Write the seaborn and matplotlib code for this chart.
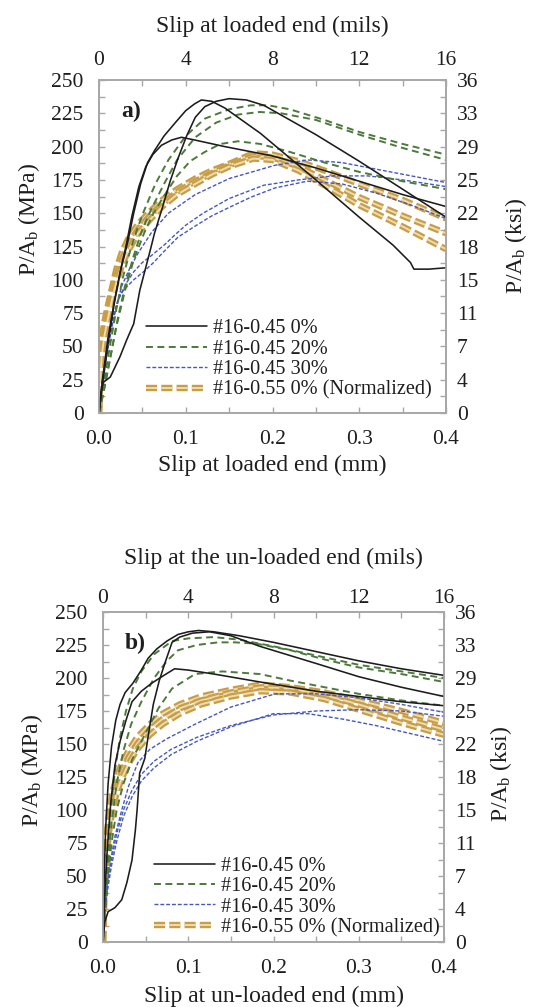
import numpy as np
import pandas as pd
import matplotlib
matplotlib.use("Agg")
import matplotlib.pyplot as plt
import seaborn as sns

# ---------------------------------------------------------------------------
# Bond stress vs. slip, #16 bars (loaded end and un-loaded end)
# slip in mm, bond stress P/Ab in MPa
# ---------------------------------------------------------------------------

# ---- a) slip at loaded end -------------------------------------------------
# #16-0.45 0%
LE_K1_SLIP = [0, 0.004, 0.010, 0.018, 0.026, 0.033, 0.040, 0.048, 0.056, 0.064, 0.075, 0.088,
              0.100, 0.110, 0.118, 0.130, 0.145, 0.186, 0.250, 0.300, 0.339, 0.359, 0.363, 0.380, 0.400]
LE_K1_STRESS = [0, 25, 55, 85, 110, 128, 150, 172, 188, 197, 208, 218,
                227, 232, 235, 234, 229, 210, 175, 147, 126, 113, 108, 108, 109]
LE_K2_SLIP = [0, 0.004, 0.010, 0.017, 0.024, 0.031, 0.038, 0.046, 0.054, 0.062, 0.072, 0.084,
              0.095, 0.110, 0.145, 0.200, 0.250, 0.300, 0.350, 0.400]
LE_K2_STRESS = [0, 22, 50, 80, 105, 125, 148, 170, 185, 194, 201, 205,
                207, 205, 200, 193, 184, 174, 164, 155]
LE_K3_SLIP = [0, 0.002, 0.005, 0.013, 0.024, 0.032, 0.040, 0.047, 0.053, 0.059, 0.064, 0.073,
              0.082, 0.091, 0.101, 0.111, 0.122, 0.135, 0.150, 0.170, 0.190, 0.250, 0.300, 0.350, 0.400]
LE_K3_STRESS = [0, 15, 23, 27, 42, 55, 67, 92, 107, 122, 135, 154,
                174, 191, 208, 222, 230, 234, 236, 235, 231, 209, 189, 168, 147]
# #16-0.45 20%
LE_G1_SLIP = [0, 0.005, 0.012, 0.020, 0.028, 0.036, 0.044, 0.052, 0.065, 0.080, 0.100, 0.122,
              0.150, 0.175, 0.195, 0.220, 0.260, 0.300, 0.350, 0.400]
LE_G1_STRESS = [0, 20, 48, 78, 103, 122, 138, 152, 172, 190, 208, 221,
                228, 231, 231, 228, 220, 211, 202, 194]
LE_G2_SLIP = [0, 0.006, 0.014, 0.022, 0.030, 0.040, 0.050, 0.061, 0.075, 0.090, 0.111, 0.135,
              0.160, 0.185, 0.210, 0.250, 0.300, 0.350, 0.400]
LE_G2_STRESS = [0, 18, 45, 72, 95, 118, 138, 154, 172, 190, 207, 218,
                224, 226, 225, 220, 209, 199, 190]
LE_G3_SLIP = [0, 0.005, 0.012, 0.020, 0.030, 0.040, 0.052, 0.062, 0.073, 0.090, 0.105, 0.122,
              0.140, 0.160, 0.186, 0.220, 0.260, 0.300, 0.350, 0.400]
LE_G3_STRESS = [0, 15, 38, 65, 92, 115, 135, 149, 161, 178, 189, 196,
                202, 204, 202, 196, 188, 181, 174, 168]
# #16-0.45 30%
LE_B1_SLIP = [0, 0.004, 0.010, 0.018, 0.026, 0.035, 0.045, 0.061, 0.080, 0.111, 0.150, 0.203,
              0.240, 0.280, 0.320, 0.360, 0.400]
LE_B1_STRESS = [0, 25, 50, 75, 95, 108, 120, 136, 150, 164, 176, 186,
                190, 188, 183, 178, 173]
LE_B2_SLIP = [0, 0.004, 0.010, 0.017, 0.024, 0.032, 0.040, 0.050, 0.060, 0.075, 0.088, 0.100,
              0.120, 0.150, 0.190, 0.230, 0.270, 0.310, 0.350, 0.400]
LE_B2_STRESS = [0, 22, 48, 72, 88, 98, 106, 113, 118, 126, 134, 141,
                150, 161, 171, 175, 178, 178, 175, 170]
LE_B3_SLIP = [0, 0.003, 0.008, 0.015, 0.022, 0.028, 0.040, 0.053, 0.063, 0.073, 0.082, 0.091,
              0.110, 0.130, 0.149, 0.175, 0.203, 0.240, 0.280, 0.320, 0.360, 0.400]
LE_B3_STRESS = [0, 20, 42, 70, 85, 92, 100, 107, 113, 120, 126, 132,
                140, 148, 154, 162, 169, 174, 172, 165, 156, 146]
# #16-0.55 0% (normalized)
LE_O_SLIP = [0, 0.001, 0.003, 0.006, 0.010, 0.015, 0.020, 0.026, 0.033, 0.045, 0.060, 0.073,
             0.090, 0.111, 0.130, 0.150, 0.178, 0.200, 0.230, 0.260, 0.300, 0.350, 0.400]
LE_O1_STRESS = [0, 30, 55, 68, 80, 94, 108, 120, 130, 142, 152, 160,
                168, 176, 182, 187, 195, 194, 189, 182, 172, 160, 146]
LE_O2_STRESS = [0, 25, 48, 62, 75, 90, 103, 115, 125, 138, 149, 157,
                166, 174, 180, 186, 193, 192, 185, 175, 162, 148, 135]
LE_O3_STRESS = [0, 20, 42, 57, 70, 85, 98, 110, 121, 135, 146, 155,
                164, 172, 179, 185, 191, 190, 182, 171, 156, 140, 123]

# ---- b) slip at un-loaded end ----------------------------------------------
# #16-0.45 0%
UE_K1_SLIP = [0, 0.001, 0.003, 0.006, 0.010, 0.015, 0.020, 0.026, 0.035, 0.045, 0.053, 0.063,
              0.075, 0.088, 0.100, 0.112, 0.130, 0.160, 0.200, 0.250, 0.300, 0.350, 0.400]
UE_K1_STRESS = [0, 40, 85, 120, 148, 168, 180, 189, 196, 206, 215, 222,
                228, 233, 235, 236, 235, 232, 227, 220, 213, 207, 202]
UE_K2_SLIP = [0, 0.002, 0.006, 0.014, 0.022, 0.028, 0.034, 0.038, 0.040, 0.043, 0.049, 0.054,
              0.059, 0.066, 0.073, 0.081, 0.090, 0.105, 0.125, 0.150, 0.184, 0.250, 0.300, 0.350, 0.400]
UE_K2_STRESS = [0, 15, 23, 26, 32, 45, 62, 85, 100, 128, 139, 160,
                180, 198, 212, 227, 231, 234, 235, 232, 224, 211, 201, 193, 186]
UE_K3_SLIP = [0, 0.002, 0.005, 0.009, 0.014, 0.020, 0.027, 0.034, 0.045, 0.057, 0.069, 0.084,
              0.100, 0.130, 0.184, 0.250, 0.300, 0.350, 0.400]
UE_K3_STRESS = [0, 35, 70, 105, 134, 152, 168, 182, 190, 196, 201, 207,
                206, 203, 197, 190, 186, 182, 179]
# #16-0.45 20%
UE_G1_SLIP = [0, 0.002, 0.005, 0.009, 0.014, 0.020, 0.027, 0.035, 0.045, 0.060, 0.081, 0.100,
              0.130, 0.160, 0.200, 0.250, 0.300, 0.350, 0.400]
UE_G1_STRESS = [0, 30, 65, 100, 130, 155, 175, 192, 205, 218, 228, 230,
                231, 229, 224, 217, 210, 205, 200]
UE_G2_SLIP = [0, 0.002, 0.005, 0.010, 0.016, 0.024, 0.033, 0.045, 0.060, 0.075, 0.088, 0.110,
              0.135, 0.155, 0.180, 0.220, 0.260, 0.300, 0.350, 0.400]
UE_G2_STRESS = [0, 25, 55, 90, 120, 145, 165, 182, 200, 213, 221, 225,
                227, 227, 226, 221, 214, 208, 203, 197]
UE_G3_SLIP = [0, 0.002, 0.005, 0.010, 0.016, 0.024, 0.034, 0.049, 0.065, 0.081, 0.108, 0.140,
              0.184, 0.220, 0.260, 0.300, 0.350, 0.400]
UE_G3_STRESS = [0, 20, 45, 75, 100, 120, 138, 157, 177, 192, 203, 205,
                203, 198, 193, 188, 183, 179]
# #16-0.45 30%
UE_B1_SLIP = [0, 0.002, 0.005, 0.009, 0.014, 0.022, 0.030, 0.041, 0.055, 0.075, 0.108, 0.150,
              0.202, 0.250, 0.300, 0.350, 0.400]
UE_B1_STRESS = [0, 25, 45, 62, 80, 100, 118, 136, 146, 154, 165, 178,
                188, 188, 185, 180, 174]
UE_B2_SLIP = [0, 0.002, 0.005, 0.010, 0.016, 0.024, 0.034, 0.045, 0.060, 0.080, 0.110, 0.150,
              0.200, 0.250, 0.300, 0.350, 0.400]
UE_B2_STRESS = [0, 22, 42, 62, 82, 100, 115, 127, 137, 146, 155, 164,
                172, 175, 176, 175, 171]
UE_B3_SLIP = [0, 0.002, 0.005, 0.010, 0.016, 0.024, 0.034, 0.045, 0.060, 0.080, 0.110, 0.150,
              0.200, 0.240, 0.280, 0.320, 0.360, 0.400]
UE_B3_STRESS = [0, 20, 38, 58, 76, 95, 110, 122, 132, 142, 152, 163,
                173, 173, 169, 164, 158, 152]
# #16-0.55 0% (normalized)
UE_O_SLIP = [0, 0.001, 0.002, 0.004, 0.007, 0.011, 0.016, 0.022, 0.030, 0.040, 0.055, 0.070,
             0.090, 0.115, 0.150, 0.185, 0.220, 0.260, 0.300, 0.350, 0.400]
UE_O1_STRESS = [0, 30, 55, 78, 98, 113, 125, 135, 145, 155, 165, 173,
                180, 186, 191, 195, 193, 189, 183, 175, 166]
UE_O2_STRESS = [0, 25, 48, 70, 90, 106, 118, 129, 140, 150, 161, 169,
                177, 183, 189, 193, 192, 187, 180, 170, 161]
UE_O3_STRESS = [0, 20, 42, 63, 83, 100, 113, 124, 135, 146, 157, 165,
                173, 180, 186, 190, 189, 184, 176, 166, 157]

SERIES = ["#16-0.45 0%", "#16-0.45 20%", "#16-0.45 30%", "#16-0.55 0% (Normalized)"]

# axis ticks (mm / MPa) with the US-customary labels derived from them
SLIP_TICKS = [0.0, 0.1, 0.2, 0.3, 0.4]
STRESS_TICKS = [0, 25, 50, 75, 100, 125, 150, 175, 200, 225, 250]
MM_PER_MIL = 0.0254
KSI_PER_MPA = 0.145038


def build_frame(curves):
    rows = []
    for series, spec, slip, stress in curves:
        for s, p in zip(slip, stress):
            rows.append((series, spec, s, p))
    return pd.DataFrame(rows, columns=["series", "specimen", "slip", "stress"])


loaded = build_frame([
    (SERIES[3], 1, LE_O_SLIP, LE_O1_STRESS),
    (SERIES[3], 2, LE_O_SLIP, LE_O2_STRESS),
    (SERIES[3], 3, LE_O_SLIP, LE_O3_STRESS),
    (SERIES[2], 1, LE_B1_SLIP, LE_B1_STRESS),
    (SERIES[2], 2, LE_B2_SLIP, LE_B2_STRESS),
    (SERIES[2], 3, LE_B3_SLIP, LE_B3_STRESS),
    (SERIES[1], 1, LE_G1_SLIP, LE_G1_STRESS),
    (SERIES[1], 2, LE_G2_SLIP, LE_G2_STRESS),
    (SERIES[1], 3, LE_G3_SLIP, LE_G3_STRESS),
    (SERIES[0], 1, LE_K1_SLIP, LE_K1_STRESS),
    (SERIES[0], 2, LE_K2_SLIP, LE_K2_STRESS),
    (SERIES[0], 3, LE_K3_SLIP, LE_K3_STRESS),
])
unloaded = build_frame([
    (SERIES[3], 1, UE_O_SLIP, UE_O1_STRESS),
    (SERIES[3], 2, UE_O_SLIP, UE_O2_STRESS),
    (SERIES[3], 3, UE_O_SLIP, UE_O3_STRESS),
    (SERIES[2], 1, UE_B1_SLIP, UE_B1_STRESS),
    (SERIES[2], 2, UE_B2_SLIP, UE_B2_STRESS),
    (SERIES[2], 3, UE_B3_SLIP, UE_B3_STRESS),
    (SERIES[1], 1, UE_G1_SLIP, UE_G1_STRESS),
    (SERIES[1], 2, UE_G2_SLIP, UE_G2_STRESS),
    (SERIES[1], 3, UE_G3_SLIP, UE_G3_STRESS),
    (SERIES[0], 1, UE_K1_SLIP, UE_K1_STRESS),
    (SERIES[0], 2, UE_K2_SLIP, UE_K2_STRESS),
    (SERIES[0], 3, UE_K3_SLIP, UE_K3_STRESS),
])

sns.set_theme(style="ticks")
plt.rcParams["font.family"] = ["Liberation Serif", "DejaVu Serif"]
plt.rcParams["mathtext.fontset"] = "custom"
plt.rcParams["mathtext.rm"] = "Liberation Serif"
plt.rcParams["mathtext.it"] = "Liberation Serif:italic"
plt.rcParams["lines.scale_dashes"] = False

FRAME = "#a8a8a8"
TXT = "#1e1e1e"
TICK_FS = 15.5
LABEL_FS = 17

# line styles per series: list of (color, width, dash) layers
STYLES = {
    SERIES[0]: [("#1c1c1c", 1.15, "-")],
    SERIES[1]: [("#4b7a3a", 1.4, (0, (5.0, 3.2)))],
    SERIES[2]: [("#4658c0", 1.0, (0, (2.8, 1.4)))],
    SERIES[3]: [("#c99d45", 4.6, (0, (8.0, 3.0))), ("#ecdcb2", 1.4, (0, (8.0, 3.0)))],
}


def draw_panel(ax, df, tag, top_label, bottom_label, legend_anchor, label_pos, top_pad):
    handles = {}
    for (series, spec), grp in df.groupby(["series", "specimen"], sort=False):
        layers = []
        for color, lw, ls in STYLES[series]:
            sns.lineplot(data=grp, x="slip", y="stress", ax=ax, sort=False,
                         estimator=None, color=color, linewidth=lw, linestyle=ls,
                         legend=False)
            layers.append(ax.lines[-1])
        if series not in handles:
            handles[series] = tuple(layers) if len(layers) > 1 else layers[0]

    ax.set_xlim(0, 0.4)
    ax.set_ylim(0, 250)
    ax.set_xticks(SLIP_TICKS)
    ax.set_xticklabels([f"{v:.1f}" for v in SLIP_TICKS])
    ax.set_xticks(np.arange(0, 0.4001, 0.05), minor=True)
    ax.set_yticks(STRESS_TICKS)
    ax.set_yticks(np.arange(0, 250.1, 12.5), minor=True)
    ax.set_xlabel(bottom_label, fontsize=LABEL_FS, color=TXT)
    ax.set_ylabel("P/A$_\\mathrm{b}$ (MPa)", fontsize=LABEL_FS, color=TXT)

    axr = ax.twinx()
    axr.set_ylim(0, 250)
    axr.set_yticks(STRESS_TICKS)
    axr.set_yticks(np.arange(0, 250.1, 12.5), minor=True)
    axr.set_yticklabels([f"{round(v * KSI_PER_MPA + 1e-9):d}" for v in STRESS_TICKS])
    axr.set_ylabel("P/A$_\\mathrm{b}$ (ksi)", fontsize=LABEL_FS, color=TXT)

    axt = ax.twiny()
    axt.set_xlim(0, 0.4)
    axt.set_xticks(SLIP_TICKS)
    axt.set_xticks(np.arange(0, 0.4001, 0.05), minor=True)
    axt.set_xticklabels([f"{round(v / MM_PER_MIL):d}" for v in SLIP_TICKS])
    axt.set_xlabel(top_label, fontsize=LABEL_FS, color=TXT)

    for a in (ax, axr, axt):
        for sp in a.spines.values():
            sp.set_color(FRAME)
            sp.set_linewidth(1.2)
        a.tick_params(which="both", direction="in", length=4, width=1.0,
                      color=FRAME, labelsize=TICK_FS, labelcolor=TXT)
    ax.tick_params(axis="y", which="both", pad=11)
    ax.tick_params(axis="x", which="both", pad=12)
    axr.tick_params(axis="y", which="both", pad=8)
    axt.tick_params(axis="x", which="both", pad=top_pad)

    left_x, left_y, right_x, right_y, bottom_y, top_y = label_pos
    ax.yaxis.set_label_coords(left_x, left_y)
    axr.yaxis.set_label_coords(right_x, right_y)
    ax.xaxis.set_label_coords(0.5, bottom_y)
    axt.xaxis.set_label_coords(0.5, top_y)

    ax.text(0.065, 0.905, tag, transform=ax.transAxes, fontsize=17,
            fontweight="bold", va="center", ha="left", color=TXT)

    leg = ax.legend([handles[s] for s in SERIES], SERIES, loc="lower left",
                    bbox_to_anchor=legend_anchor, frameon=False, fontsize=14.6,
                    handlelength=3.0, handletextpad=0.3, labelspacing=0.06,
                    borderpad=0.0, borderaxespad=0.0)
    for t in leg.get_texts():
        t.set_color(TXT)
    axt.set_zorder(ax.get_zorder() - 1)
    axr.set_zorder(ax.get_zorder() - 1)
    ax.patch.set_visible(False)


fig = plt.figure(figsize=(5.33, 10.07), dpi=100)
ax_a = fig.add_axes([99 / 533, 1 - 413 / 1007, 347 / 533, 333 / 1007])
ax_b = fig.add_axes([103 / 533, 1 - 942 / 1007, 341 / 533, 330 / 1007])

draw_panel(ax_a, loaded, "a)", "Slip at loaded end (mils)",
           "Slip at loaded end (mm)", (0.135, 0.04),
           (-0.165, 0.58, 1.165, 0.5, -0.125, 1.145), 7)
draw_panel(ax_b, unloaded, "b)", "Slip at the un-loaded end (mils)",
           "Slip at un-loaded end (mm)", (0.15, 0.015),
           (-0.17, 0.52, 1.13, 0.51, -0.133, 1.145), 3)

fig.savefig("out.png", dpi=100, facecolor="white")
